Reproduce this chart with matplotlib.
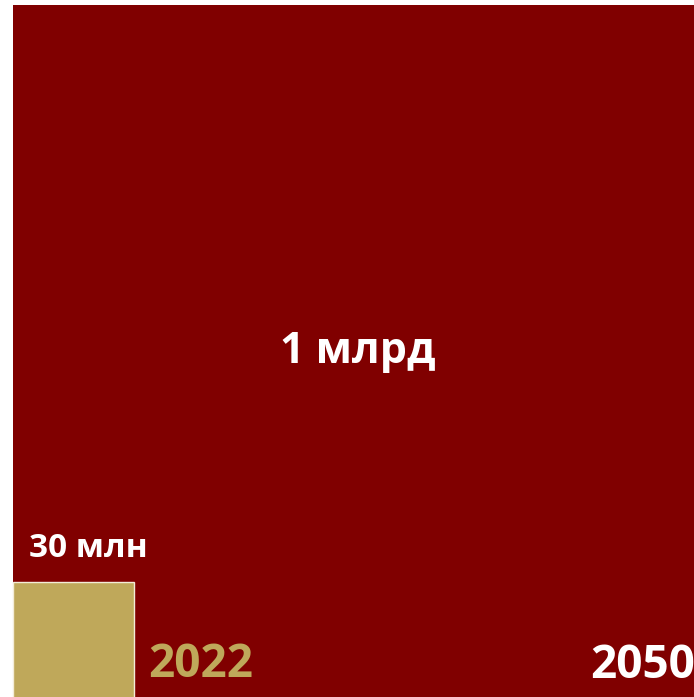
import numpy as np
import matplotlib
matplotlib.use("Agg")
import matplotlib.pyplot as plt
from matplotlib.patches import Rectangle

# values (millions)
years = ["2022", "2050"]
values = [30, 1000]
value_labels = ["30 млн", "1 млрд"]

RED = "#800000"
GOLD = "#BFA85A"

plt.rcParams['font.family'] = ['Open Sans', 'DejaVu Sans']

sides = [np.sqrt(v) for v in values]
s_small, s_big = sides

fig = plt.figure(figsize=(6.94, 6.97), dpi=100)
ax = fig.add_axes([0, 0, 1, 1])

# the picture is a crop: square origin sits slightly below/left of the frame
ppu = 699 / s_big
x0, y0 = 12.5, 703.5
ax.set_xlim(-x0 / ppu, (694 - x0) / ppu)
ax.set_ylim((y0 - 697) / ppu, y0 / ppu)
ax.axis("off")

# big square (2050) then small square (2022) in the corner
ax.add_patch(Rectangle((0, 0), s_big, s_big, facecolor=RED, edgecolor="none"))
ax.add_patch(Rectangle((0, 0), s_small, s_small, facecolor=GOLD,
                       edgecolor="#f4ecd8", linewidth=1))

# labels
ax.text(s_big / 2 - 0.2, s_big / 2 - 0.4, value_labels[1], color="white",
        fontsize=31, fontweight="bold", ha="center", va="baseline")
ax.text(0.75, s_small + 1.15, value_labels[0], color="white", fontsize=24,
        fontweight="bold", ha="left", va="baseline")
ax.text(s_small + 0.65, 1.2, years[0], color=GOLD, fontsize=33,
        fontweight="bold", ha="left", va="baseline")
ax.text(26.13, 1.15, years[1], color="white", fontsize=33,
        fontweight="bold", ha="left", va="baseline")

fig.savefig("out.png", dpi=100)
